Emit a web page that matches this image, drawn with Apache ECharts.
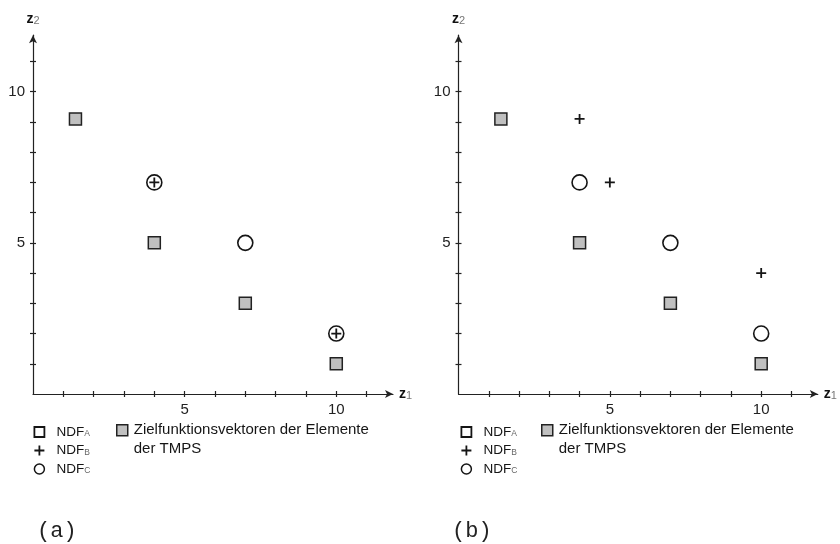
<!DOCTYPE html>
<html>
<head>
<meta charset="utf-8">
<script src="https://cdn.jsdelivr.net/npm/echarts@6/dist/echarts.min.js"></script>
<style>
html,body{margin:0;padding:0;background:#fff;}
#chart{width:840px;height:544px;}
</style>
</head>
<body>
<div id="chart"></div>
<script>
// ---- data ----
const xTickValues = [1, 2, 3, 4, 5, 6, 7, 8, 9, 10, 11];
const yTickValues = [1, 2, 3, 4, 5, 6, 7, 8, 9, 10, 11];
const xTickLabels = [5, 10];
const yTickLabels = [5, 10];

const tmpsA = [[1.4, 9.1], [4, 5], [7, 3], [10, 1]];
const ndfA_A = [];
const ndfB_A = [[4, 7], [10, 2]];
const ndfC_A = [[4, 7], [7, 5], [10, 2]];

const tmpsB = [[1.4, 9.1], [4, 5], [7, 3], [10, 1]];
const ndfA_B = [];
const ndfB_B = [[4, 9.1], [5, 7], [10, 4]];
const ndfC_B = [[4, 7], [7, 5], [10, 2]];

const panelLabels = ['(a)', '(b)'];
const ndfNames = ['NDF_A', 'NDF_B', 'NDF_C'];
const tmpsName = 'Zielfunktionsvektoren der Elemente\nder TMPS';

// ---- styling ----
const FONT = 'Liberation Sans, Arial, sans-serif';
const INK = '#151515';
const PLUS = 'path://M0,4.1H10V5.9H0Z M4.1,0H5.9V10H4.1Z';
const SQUARE = 'path://M0,0H10V10H0Z';

const panels = [
  {left: 33, width: 360, tmps: tmpsA, a: ndfA_A, b: ndfB_A, c: ndfC_A, label: panelLabels[0], labelLeft: 37, legLeft: 33.5, tmpsLeft: 116},
  {left: 458.5, width: 359.3, tmps: tmpsB, a: ndfA_B, b: ndfB_B, c: ndfC_B, label: panelLabels[1], labelLeft: 452, legLeft: 460.5, tmpsLeft: 541}
];
const TOP = 35.2, HEIGHT = 358.8, MAX = 11.87;

const nameRich = {
  z: {fontSize: 14, fontWeight: 'bold', color: '#111', lineHeight: 14, fontFamily: FONT},
  s: {fontSize: 11, color: '#777', lineHeight: 11, padding: [8, 0, 0, 0], verticalAlign: 'bottom', fontFamily: FONT}
};
const legRich = {
  m: {fontSize: 13.5, color: INK, lineHeight: 13, fontFamily: FONT},
  s: {fontSize: 8.5, color: '#666', lineHeight: 8, padding: [10, 0, 0, 0], verticalAlign: 'bottom', fontFamily: FONT}
};

const grid = [], xAxis = [], yAxis = [], series = [], legend = [], title = [];
const lineStyle = {color: '#222', width: 1.2};

panels.forEach((p, i) => {
  grid.push({left: p.left, top: TOP, width: p.width, height: HEIGHT});
  const xi = xAxis.length, yi = yAxis.length;
  xAxis.push({
    type: 'value', gridIndex: i, min: 0, max: MAX, position: 'bottom',
    axisLine: {show: true, onZero: false, lineStyle, symbol: ['none', 'arrow'], symbolSize: [6, 8]},
    axisTick: {show: true, inside: false, length: 3, customValues: xTickValues, lineStyle},
    axisLabel: {customValues: xTickLabels, margin: 8, fontSize: 15, color: '#222', fontFamily: FONT},
    splitLine: {show: false},
    name: '{z|z}{s|1}', nameLocation: 'end', nameGap: 6, nameTextStyle: {rich: nameRich}
  });
  xAxis.push({
    type: 'value', gridIndex: i, min: 0, max: MAX, position: 'bottom',
    axisLine: {show: false, onZero: false},
    axisTick: {show: true, inside: true, length: 3, customValues: xTickValues, lineStyle},
    axisLabel: {show: false}, splitLine: {show: false}
  });
  yAxis.push({
    type: 'value', gridIndex: i, min: 0, max: MAX, position: 'left',
    axisLine: {show: true, onZero: false, lineStyle, symbol: ['none', 'arrow'], symbolSize: [6, 8]},
    axisTick: {show: true, inside: false, length: 3, customValues: yTickValues, lineStyle},
    axisLabel: {customValues: yTickLabels, margin: 8, fontSize: 15, color: '#222', fontFamily: FONT},
    splitLine: {show: false},
    name: '{z|z}{s|2}', nameLocation: 'end', nameGap: 9, nameTextStyle: {rich: nameRich}
  });
  yAxis.push({
    type: 'value', gridIndex: i, min: 0, max: MAX, position: 'left',
    axisLine: {show: false, onZero: false},
    axisTick: {show: true, inside: true, length: 3, customValues: yTickValues, lineStyle},
    axisLabel: {show: false}, splitLine: {show: false}
  });

  series.push({
    type: 'scatter', name: tmpsName, xAxisIndex: xi, yAxisIndex: yi, data: p.tmps,
    symbol: 'rect', symbolSize: 12, z: 2,
    itemStyle: {color: '#c0c0c0', borderColor: '#222', borderWidth: 1.5, opacity: 1}
  });
  series.push({
    type: 'scatter', name: ndfNames[0], xAxisIndex: xi, yAxisIndex: yi, data: p.a,
    symbol: 'rect', symbolSize: 12, z: 3,
    itemStyle: {color: '#fff', borderColor: INK, borderWidth: 1.5, opacity: 1}
  });
  series.push({
    type: 'scatter', name: ndfNames[2], xAxisIndex: xi, yAxisIndex: yi, data: p.c,
    symbol: 'circle', symbolSize: 15, z: 4,
    itemStyle: {color: '#fff', borderColor: INK, borderWidth: 1.6, opacity: 1}
  });
  series.push({
    type: 'scatter', name: ndfNames[1], xAxisIndex: xi, yAxisIndex: yi, data: p.b,
    symbol: PLUS, symbolSize: 10, z: 5,
    itemStyle: {color: INK, borderWidth: 0, opacity: 1}
  });

  legend.push({
    left: p.legLeft, top: 419.5, orient: 'vertical', padding: 0, itemGap: -1,
    itemWidth: 24, itemHeight: 10, selectedMode: false,
    data: [
      {name: ndfNames[0], icon: SQUARE, itemStyle: {color: '#fff', borderColor: INK, borderWidth: 1.8}},
      {name: ndfNames[1], icon: PLUS, itemStyle: {color: INK, borderWidth: 0}},
      {name: ndfNames[2], icon: 'circle', itemStyle: {color: '#fff', borderColor: INK, borderWidth: 1.5}}
    ],
    formatter: n => '{m|NDF}{s|' + n.slice(4) + '}',
    textStyle: {rich: legRich}
  });
  legend.push({
    left: p.tmpsLeft, top: 402.5, orient: 'vertical', padding: 0,
    itemWidth: 13, itemHeight: 11, selectedMode: false,
    data: [{name: tmpsName, icon: SQUARE, itemStyle: {color: '#c0c0c0', borderColor: '#222', borderWidth: 1.5}}],
    formatter: n => '\n' + n,
    textStyle: {fontSize: 15, color: INK, fontFamily: FONT, lineHeight: 18.5}
  });

  title.push({
    text: p.label, left: p.labelLeft, top: 520, padding: 0,
    textStyle: {fontFamily: 'Liberation Mono, Courier New, monospace', fontSize: 22, fontWeight: 'normal', color: '#222'}
  });
});

const chart = echarts.init(document.getElementById('chart'), null, {renderer: 'canvas'});
chart.setOption({
  animation: false,
  backgroundColor: '#fff',
  title, grid, xAxis, yAxis, legend, series
});
</script>
</body>
</html>
